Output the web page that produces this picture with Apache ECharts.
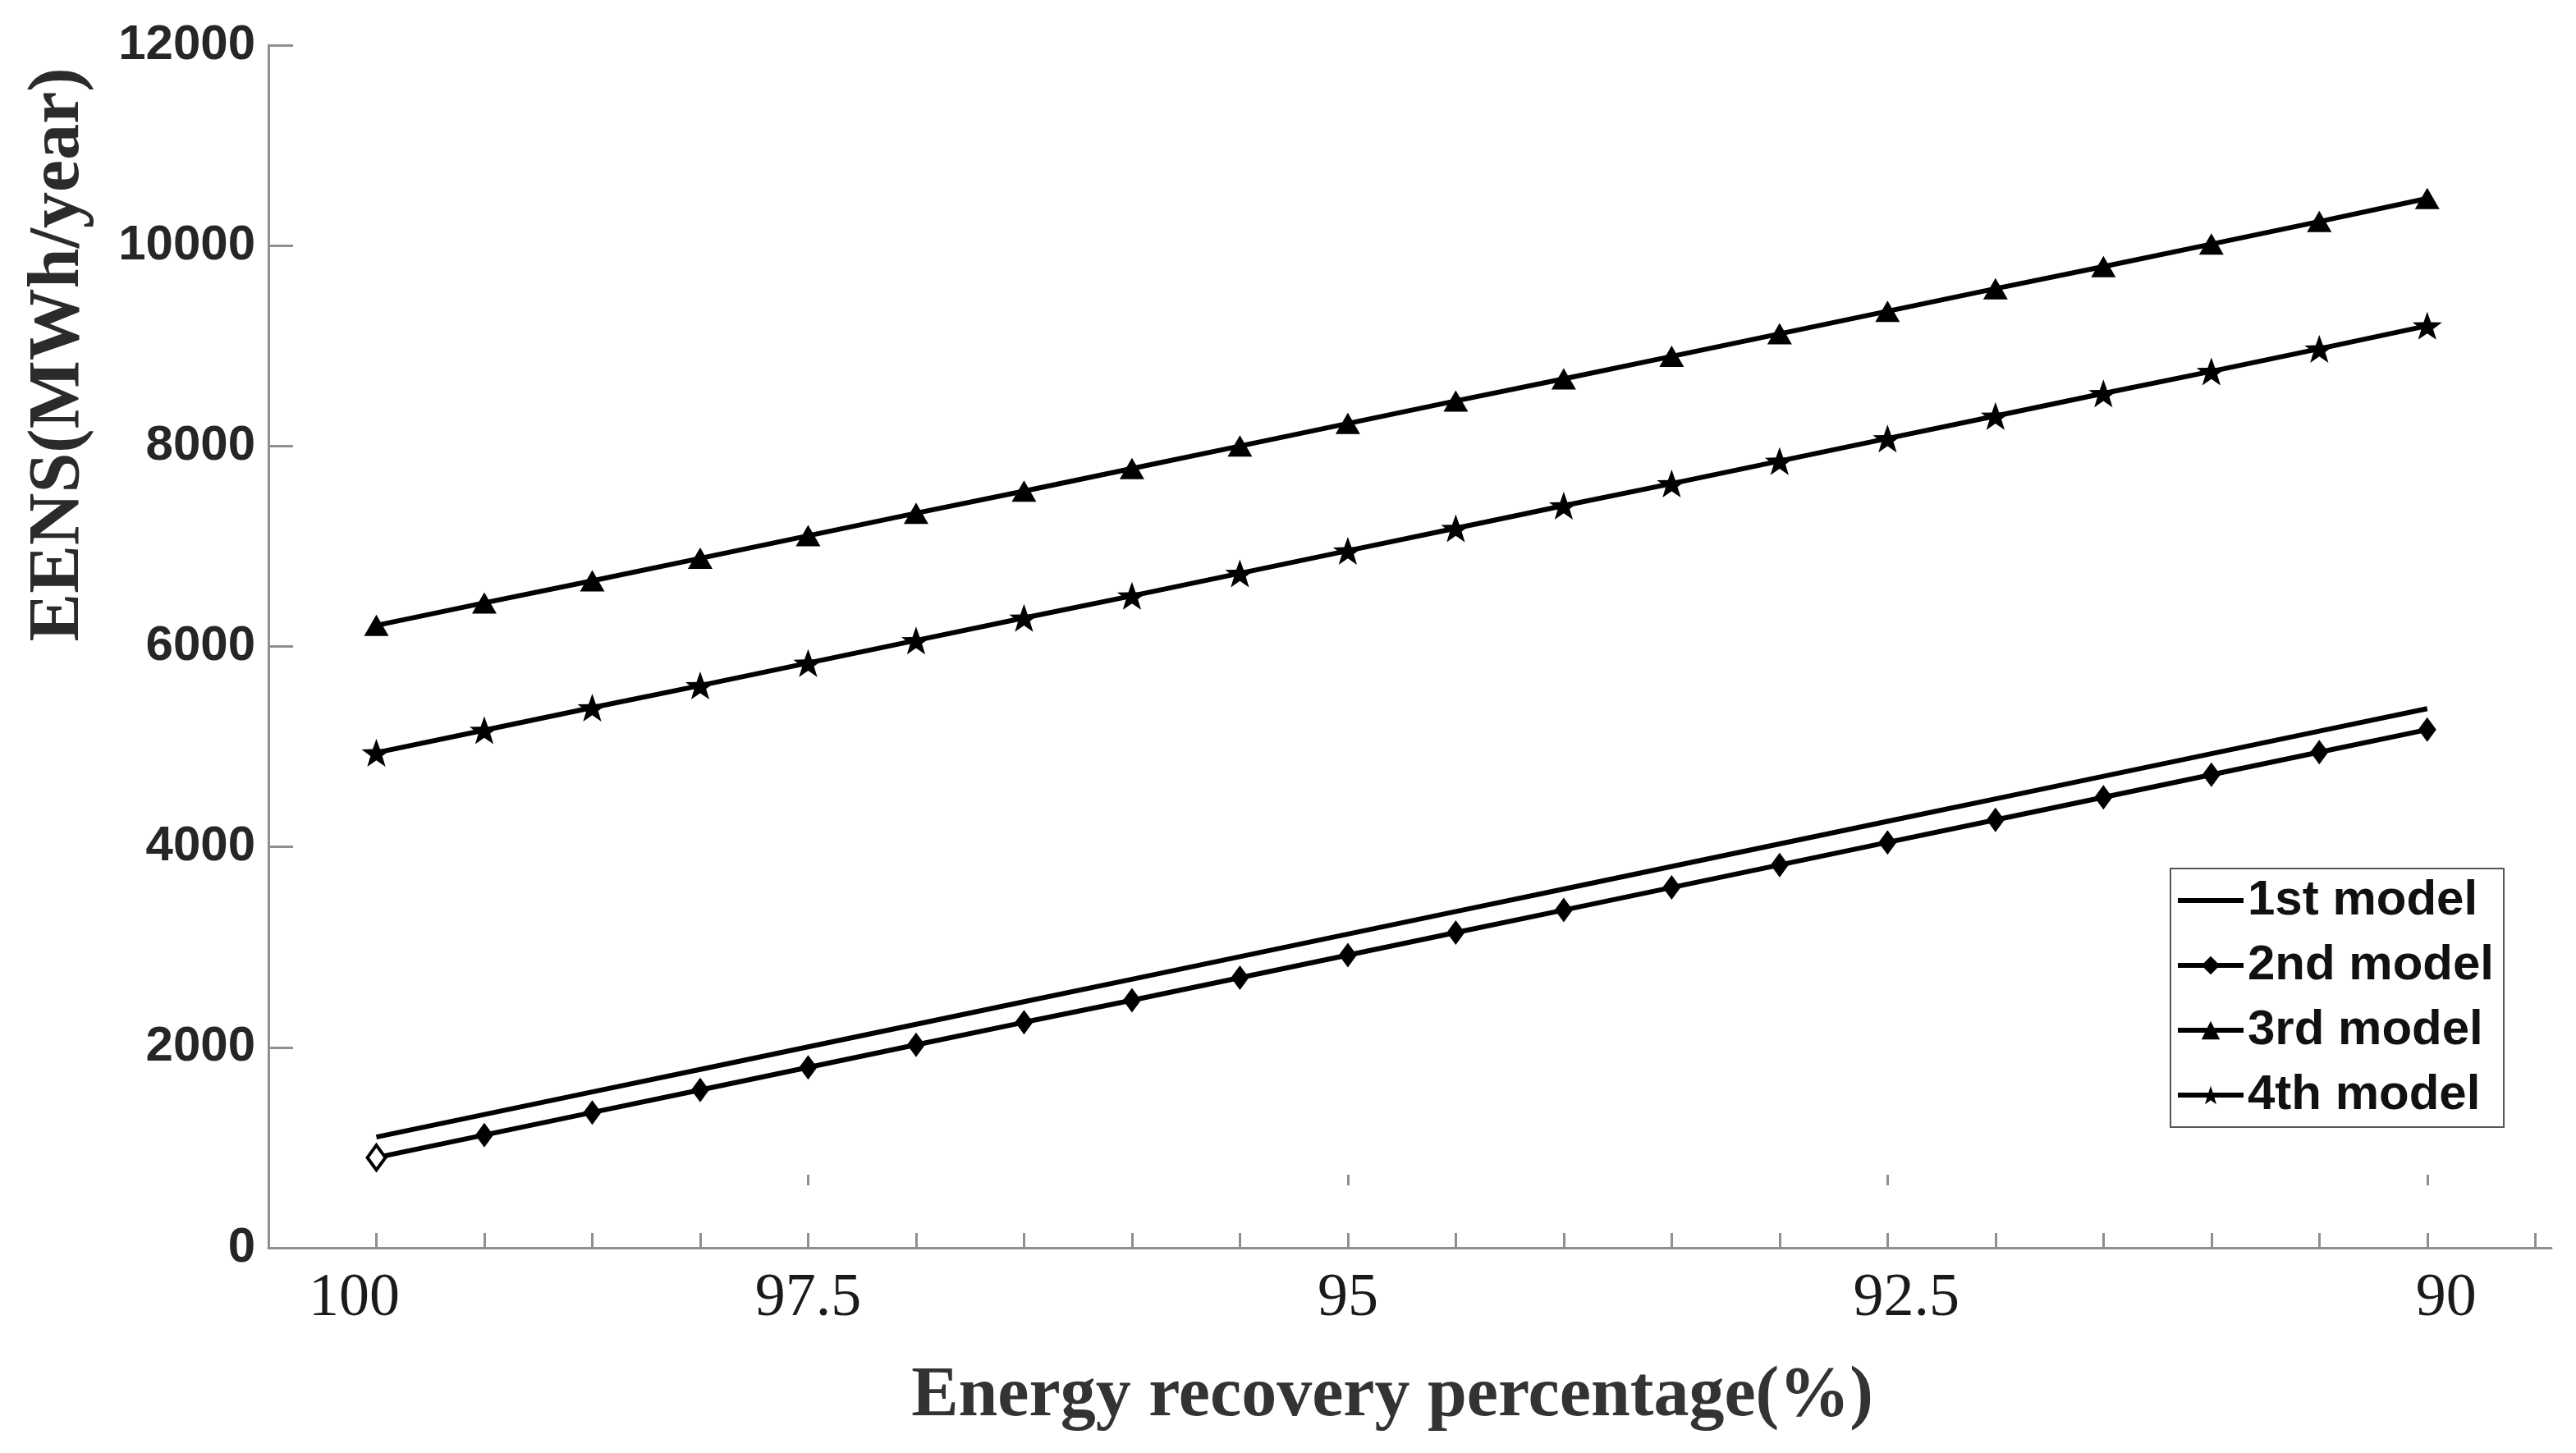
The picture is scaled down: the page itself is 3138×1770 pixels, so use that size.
<!DOCTYPE html>
<html>
<head>
<meta charset="utf-8">
<script src="https://cdn.jsdelivr.net/npm/echarts@6/dist/echarts.min.js"></script>
<style>
html,body{margin:0;padding:0;background:#fff;}
#chart{width:3138px;height:1770px;}
</style>
</head>
<body>
<div id="chart"></div>
<script>
// x positions of the 20 computed points (index along the recovery axis)
const xPositions = [1,2,3,4,5,6,7,8,9,10,11,12,13,14,15,16,17,18,19,20];
// tick positions and their labels (energy recovery percentage)
const tickPositions = [1,5,10,15,20];
const tickLabels = ['100','97.5','95','92.5','90'];
const seriesNames = ['1st model','2nd model','3rd model','4th model'];
const model1 = [1105,1330,1555,1780,2005,2230,2455,2680,2905,3130,3355,3580,3805,4030,4255,4480,4705,4930,5155,5380];
const model2 = [900,1125,1350,1575,1800,2025,2250,2470,2695,2920,3145,3370,3595,3820,4045,4270,4495,4720,4945,5170];
const model3 = [6210,6435,6655,6880,7105,7330,7550,7775,8000,8225,8450,8670,8895,9120,9345,9570,9790,10015,10240,10470];
const model4 = [4940,5165,5390,5610,5835,6060,6285,6505,6730,6955,7180,7405,7625,7850,8075,8300,8525,8745,8970,9200];
const allTicks = [1,2,3,4,5,6,7,8,9,10,11,12,13,14,15,16,17,18,19,20,21];

const starPath = 'path://M0,-10 L2.35,-3.24 L9.51,-3.09 L3.80,1.24 L5.88,8.09 L0,4 L-5.88,8.09 L-3.80,1.24 L-9.51,-3.09 L-2.35,-3.24 Z';

function pts(vals){ return xPositions.map((x,i)=>[x, vals[i]]); }

const chart = echarts.init(document.getElementById('chart'), null, {renderer:'canvas'});
const labelMap = {};
tickPositions.forEach((p,i)=>{ labelMap[p] = tickLabels[i]; });

const lineW = 6;
const axisGray = '#8f8f8f';

const option = {
  backgroundColor:'#fff',
  animation:false,
  grid:{left:327, right:30, top:55, bottom:250, containLabel:false},
  xAxis:[{
    type:'value', min:0, max:21.15,
    axisLine:{show:true, onZero:false, lineStyle:{color:axisGray, width:3}},
    axisTick:{show:true, inside:true, length:18, customValues: allTicks, lineStyle:{color:axisGray, width:3}},
    splitLine:{show:false},
    axisLabel:{
      show:true, margin:26, customValues: tickPositions,
      formatter:function(v){
        const t = labelMap[Math.round(v)] || '';
        if (t==='100') return '{l|'+t+'}';
        if (t==='92.5' || t==='90') return '{r|'+t+'}';
        return '{c|'+t+'}';
      },
      rich:{
        l:{fontFamily:'Liberation Serif', fontSize:74, color:'#1a1a1a', padding:[0,54,0,0]},
        r:{fontFamily:'Liberation Serif', fontSize:74, color:'#1a1a1a', padding:[0,0,0,46]},
        c:{fontFamily:'Liberation Serif', fontSize:74, color:'#1a1a1a'}
      }
    }
  },{
    type:'value', min:0, max:21.15, position:'bottom', offset:-76,
    axisLine:{show:false},
    axisTick:{show:true, inside:true, length:13, customValues:[5,10,15,20], lineStyle:{color:axisGray, width:3}},
    axisLabel:{show:false}, splitLine:{show:false}
  }],
  yAxis:{
    type:'value', min:0, max:12000, interval:2000,
    axisLine:{show:true, lineStyle:{color:axisGray, width:3}},
    axisTick:{show:true, inside:true, length:30, lineStyle:{color:axisGray, width:3}},
    splitLine:{show:false},
    axisLabel:{fontFamily:'Liberation Sans', fontWeight:'bold', fontSize:60, color:'#262626', margin:16,
      formatter:function(v){ return String(v); }}
  },
  legend:{
    orient:'vertical', left:2644, top:1058,
    itemWidth:80, itemHeight:28, itemGap:19, itemTextGap:4,
    padding:[9,12,9,6],
    borderColor:'#555', borderWidth:2, backgroundColor:'#fff',
    lineStyle:{width:6, color:'#000'},
    textStyle:{fontFamily:'Liberation Sans', fontWeight:'bold', fontSize:60, color:'#111', lineHeight:60},
    data:[
      {name:seriesNames[0], itemStyle:{opacity:0}},
      {name:seriesNames[1]},
      {name:seriesNames[2]},
      {name:seriesNames[3]}
    ]
  },
  graphic:[
    {type:'text', x:72, y:432, rotation:Math.PI/2,
     style:{text:'EENS(MWh/year)', fontFamily:'Liberation Serif', fontWeight:'bold', fontSize:88, fill:'#2b2b2b', textAlign:'center', textVerticalAlign:'middle'}},
    {type:'text', x:1696, y:1702,
     style:{text:'Energy recovery percentage(%)', fontFamily:'Liberation Serif', fontWeight:'bold', fontSize:86, fill:'#333', textAlign:'center', textVerticalAlign:'middle'}}
  ],
  series:[
    {name:seriesNames[0], type:'line', data:pts(model1), symbol:'none', lineStyle:{color:'#000', width:lineW}, itemStyle:{color:'#000'}, z:3},
    {name:seriesNames[1], type:'line', data:pts(model2).map((d,i)=> i===0 ? {value:d, itemStyle:{color:'#fff', borderColor:'#000', borderWidth:4}} : d),
     symbol:'diamond', symbolSize:[22,30], showAllSymbol:true, lineStyle:{color:'#000', width:lineW}, itemStyle:{color:'#000'}, z:3},
    {name:seriesNames[2], type:'line', data:pts(model3), symbol:'triangle', symbolSize:[30,26], showAllSymbol:true, lineStyle:{color:'#000', width:lineW}, itemStyle:{color:'#000'}, z:3},
    {name:seriesNames[3], type:'line', data:pts(model4), symbol:starPath, symbolSize:[36,34], showAllSymbol:true, lineStyle:{color:'#000', width:lineW}, itemStyle:{color:'#000'}, z:3}
  ]
};
chart.setOption(option);
</script>
</body>
</html>
